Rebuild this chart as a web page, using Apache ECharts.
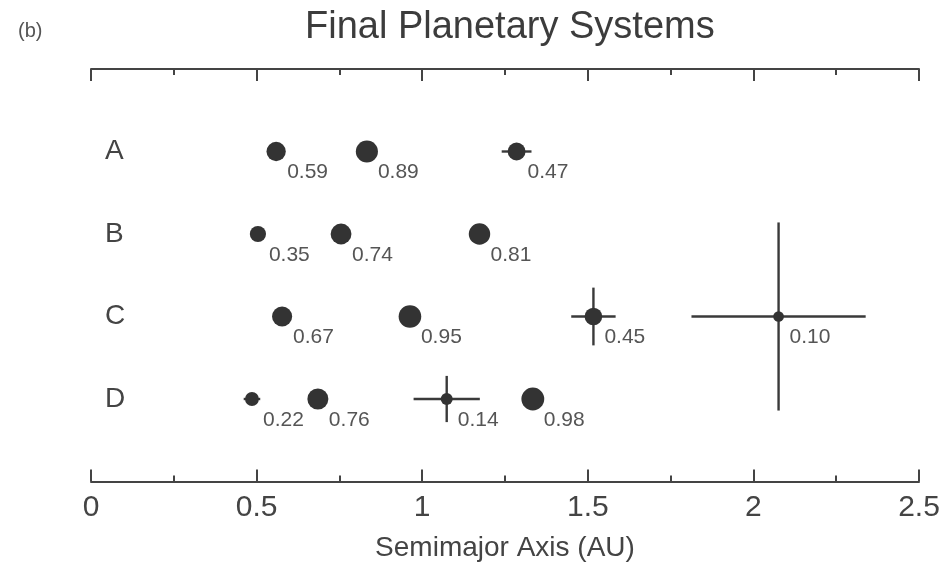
<!DOCTYPE html>
<html><head><meta charset="utf-8">
<script src="https://cdn.jsdelivr.net/npm/echarts@6/dist/echarts.min.js"></script>
<style>html,body{margin:0;padding:0;background:#fff}#c{width:947px;height:562px}</style>
</head><body><div id="c"></div>
<script>
// ---- data ----
const systems = ['A', 'B', 'C', 'D'];
const tickLabels = ['0', '0.5', '1', '1.5', '2', '2.5'];
const planetSystem = ['A','A','A', 'B','B','B', 'C','C','C','C', 'D','D','D','D'];
const semimajorAxis = [0.559, 0.833, 1.285, 0.504, 0.755, 1.173, 0.577, 0.963, 1.517, 2.076, 0.486, 0.685, 1.074, 1.334];
const planetMass = [0.59, 0.89, 0.47, 0.35, 0.74, 0.81, 0.67, 0.95, 0.45, 0.10, 0.22, 0.76, 0.14, 0.98];
// horizontal half-width of the bar (AU)
const axisSpread = [0, 0, 0.045, 0, 0, 0, 0, 0, 0.067, 0.263, 0.025, 0, 0.10, 0];
// vertical half-height of the bar (row units)
const verticalSpread = [0, 0, 0.10, 0, 0, 0, 0, 0, 0.35, 1.14, 0.06, 0, 0.28, 0];

const rowValue = s => systems.length - systems.indexOf(s);

const points = semimajorAxis.map((a, i) => [a, rowValue(planetSystem[i]), planetMass[i]]);
const bars = semimajorAxis.map((a, i) => [a, rowValue(planetSystem[i]), axisSpread[i], verticalSpread[i]]);

const INK = '#333';
const chart = echarts.init(document.getElementById('c'));
chart.setOption({
  animation: false,
  backgroundColor: '#fff',
  textStyle: { fontFamily: 'Liberation Sans, Arial, sans-serif' },
  title: [
    { text: '(b)', left: 13, top: 16, textStyle: { fontSize: 20, fontWeight: 'normal', color: '#555' } },
    { text: 'Final Planetary Systems', left: 300, top: 4, textStyle: { fontSize: 38, fontWeight: 'normal', color: '#3c3c3c' } }
  ],
  grid: { left: 91, right: 28, top: 69, bottom: 80.5, containLabel: false, outerBoundsMode: 'none' },
  xAxis: [
    {
      type: 'value', position: 'bottom', min: 0, max: 2.5, interval: 0.5,
      axisLine: { show: true, lineStyle: { color: '#444', width: 2 } },
      axisTick: { show: true, inside: true, length: 12, lineStyle: { color: '#444', width: 2 } },
      minorTick: { show: true, splitNumber: 2, length: 6, lineStyle: { color: '#444', width: 2 } },
      splitLine: { show: false },
      axisLabel: { fontSize: 30, color: '#444', margin: 11,
        formatter: (v) => tickLabels[Math.round(v / 0.5)] },
      name: 'Semimajor Axis (AU)', nameLocation: 'middle', nameGap: 53,
      nameTextStyle: { fontSize: 28, color: '#444' }
    },
    {
      type: 'value', position: 'top', min: 0, max: 2.5, interval: 0.5,
      axisLine: { show: true, lineStyle: { color: '#444', width: 2 } },
      axisTick: { show: true, inside: true, length: 12, lineStyle: { color: '#444', width: 2 } },
      minorTick: { show: true, splitNumber: 2, length: 6, lineStyle: { color: '#444', width: 2 } },
      splitLine: { show: false },
      axisLabel: { show: false }
    }
  ],
  yAxis: {
    type: 'value', min: 0, max: 5, interval: 1,
    axisLine: { show: false }, axisTick: { show: false }, splitLine: { show: false },
    axisLabel: {
      inside: true, margin: 14, fontSize: 28, color: '#444',
      formatter: (v) => { const i = systems.length - v; return (i >= 0 && i < systems.length) ? systems[i] : ''; }
    }
  },
  series: [
    {
      type: 'custom', xAxisIndex: 0, z: 2,
      data: bars,
      encode: { x: 0, y: 1 },
      clip: false,
      renderItem: (params, api) => {
        const x = api.value(0), y = api.value(1), dx = api.value(2), dy = api.value(3);
        const c = api.coord([x, y]);
        const children = [];
        const st = { stroke: '#3a3a3a', lineWidth: 2.4 };
        if (dx > 0) {
          const l = api.coord([x - dx, y]), r = api.coord([x + dx, y]);
          children.push({ type: 'line', shape: { x1: l[0], y1: c[1], x2: r[0], y2: c[1] }, style: st });
        }
        if (dy > 0) {
          const t = api.coord([x, y + dy]), b = api.coord([x, y - dy]);
          children.push({ type: 'line', shape: { x1: c[0], y1: t[1], x2: c[0], y2: b[1] }, style: st });
        }
        return { type: 'group', children };
      }
    },
    {
      type: 'scatter', xAxisIndex: 0, z: 3,
      data: points,
      symbol: 'circle',
      symbolSize: (d) => 23 * Math.cbrt(d[2]),
      itemStyle: { color: INK, opacity: 1 },
      label: {
        show: true, position: 'inside', align: 'left', verticalAlign: 'middle',
        offset: [11, 21], fontSize: 21, color: '#555',
        formatter: (p) => p.data[2].toFixed(2)
      },
      emphasis: { disabled: true }
    }
  ]
});
</script>
</body></html>
